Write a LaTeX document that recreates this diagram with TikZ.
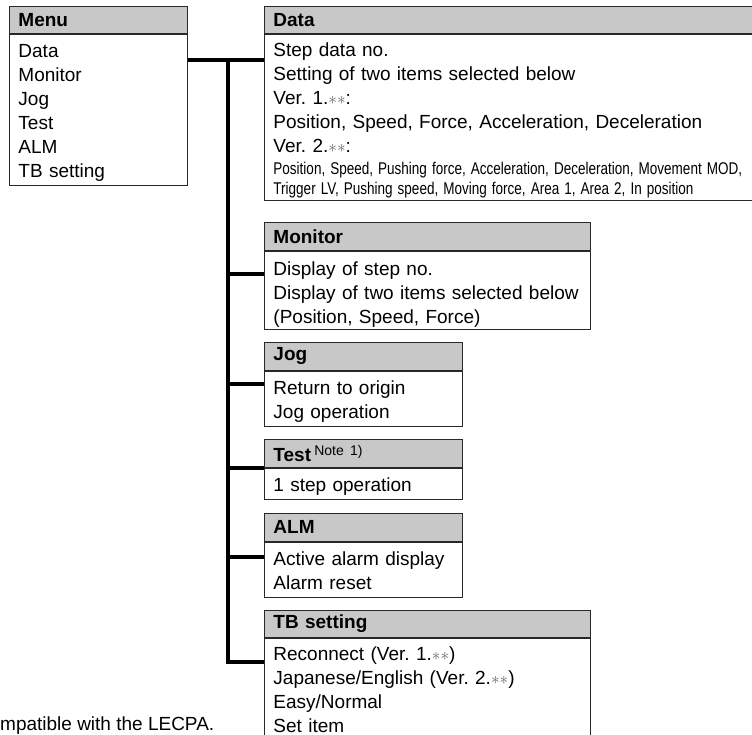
\documentclass[tikz,border=0pt]{standalone}
\usepackage{fontspec}
\setmainfont{Liberation Sans}
\usetikzlibrary{positioning}
\definecolor{menugray}{RGB}{200,200,200}
\definecolor{menuline}{RGB}{40,40,40}
\newcommand{\menufont}{\fontsize{19}{24}\selectfont\frenchspacing}
\newcommand{\narrowline}[1]{\scalebox{0.795}[1]{\fontsize{17}{20}\selectfont #1}}
\newcommand{\twostar}{\textcolor{black!60}{$\ast\ast$}}
\tikzset{
  boxhead/.style={draw=menuline, fill=menugray, line width=0.9pt, anchor=north west,
    align=left, inner xsep=9pt, inner ysep=0pt, minimum height=28pt, font=\menufont\bfseries},
  boxbody/.style={draw=menuline, line width=0.9pt, anchor=north west, align=left,
    inner xsep=9pt, inner ysep=0pt, font=\menufont,
    execute at begin node={\rule{0pt}{#1}},
    execute at end node={\rule[-\dimexpr24pt-#1\relax]{0pt}{\dimexpr24pt-#1\relax}}},
  boxbody/.default=19.8pt,
  link/.style={line width=3.5pt}
}
\begin{document}
\begin{tikzpicture}[x=1pt,y=-1pt]
\useasboundingbox (0,0) rectangle (752,734);
% menu list
\node[boxhead, text width=160pt, minimum height=27pt] (menuhead) at (9,6) {Menu};
\node[boxbody, text width=160pt, minimum height=151pt] (menubody) at (menuhead.south west)
  {Data\\Monitor\\Jog\\Test\\ALM\\TB setting};
% data
\node[boxhead, text width=502pt, minimum height=27pt] (datahead) at (264,6) {Data};
\node[boxbody, text width=502pt, minimum height=166pt] (databody) at (datahead.south west)
  {Step data no.\\
   Setting of two items selected below\\
   Ver. 1.\twostar:\\
   Position, Speed, Force, Acceleration, Deceleration\\
   Ver. 2.\twostar:\\[-2pt]
   \narrowline{Position, Speed, Pushing force, Acceleration, Deceleration, Movement MOD,}\\[-4pt]
   \narrowline{Trigger LV, Pushing speed, Moving force, Area 1, Area 2, In position}};
% monitor
\node[boxhead, text width=308pt] (monitorhead) at (264,222) {Monitor};
\node[boxbody=22.5pt, text width=308pt, minimum height=78pt] (monitorbody) at (monitorhead.south west)
  {Display of step no.\\Display of two items selected below\\(Position, Speed, Force)};
% jog
\node[boxhead, text width=180pt] (joghead) at (264,342) {Jog};
\node[boxbody, text width=180pt, minimum height=55pt] (jogbody) at (joghead.south west)
  {Return to origin\\Jog operation};
% test
\node[boxhead, text width=180pt] (testhead) at (264,439)
  {Test\,\raisebox{6pt}{\fontsize{14}{14}\selectfont\mdseries Note 1)}};
\node[boxbody, text width=180pt, minimum height=31pt] (testbody) at (testhead.south west)
  {1 step operation};
% alarm
\node[boxhead, text width=180pt] (almhead) at (264,513) {ALM};
\node[boxbody, text width=180pt, minimum height=55pt] (almbody) at (almhead.south west)
  {Active alarm display\\Alarm reset};
% tb setting
\node[boxhead, text width=308pt, minimum height=27pt] (tbhead) at (264,610) {TB setting};
\node[boxbody=17.8pt, text width=308pt, minimum height=104pt] (tbbody) at (tbhead.south west)
  {Reconnect (Ver. 1.\twostar)\\Japanese/English (Ver. 2.\twostar)\\Easy/Normal\\Set item};
% tree lines
\coordinate (trunktop) at (228,60);
\coordinate (trunkend) at (228,662);
\draw[link] (menubody.east |- trunktop) -- (databody.west |- trunktop);
\draw[link, line cap=rect] (trunktop) -- (trunkend);
\foreach \name/\y in {monitor/274, jog/384, test/468, alm/557, tb/662}{
  \coordinate (br\name) at (228,\y);
  \draw[link] (br\name) -- (\name body.west |- br\name);
}
\node[anchor=west, inner sep=0pt, font=\menufont] (footnote) at (0,726) {mpatible with the LECPA.};
\end{tikzpicture}
\end{document}
